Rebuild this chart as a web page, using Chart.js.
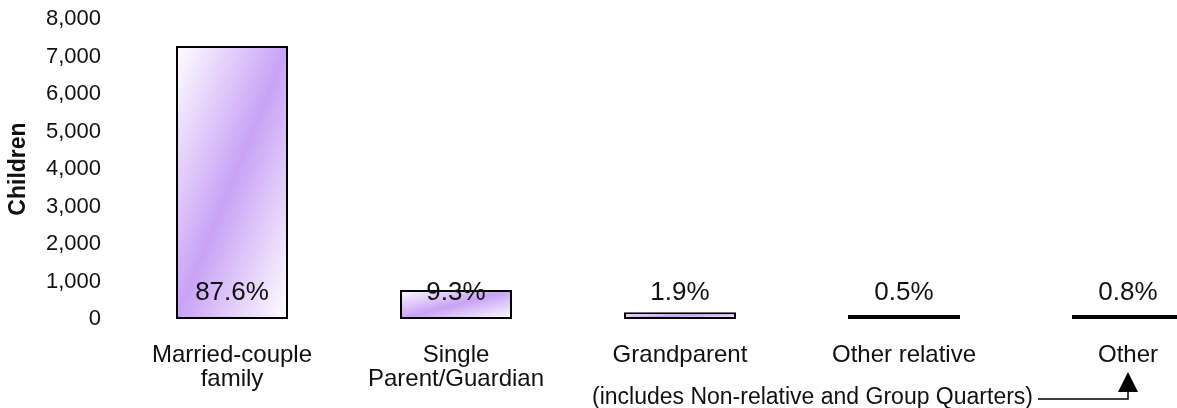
<!DOCTYPE html>
<html>
<head>
<meta charset="utf-8">
<script src="https://cdn.jsdelivr.net/npm/chart.js@4/dist/chart.umd.min.js"></script>
<style>
  html, body { margin: 0; padding: 0; background: #fff; overflow: hidden; }
  #wrap { width: 1240px; height: 408px; }
</style>
</head>
<body>
<div id="wrap"><canvas id="chart" width="1240" height="408"></canvas></div>
<script>
const categories = [['Married-couple', 'family'], ['Single', 'Parent/Guardian'], 'Grandparent', 'Other relative', 'Other'];
const children = [7280, 773, 180, 42, 66];
const shares = ['87.6%', '9.3%', '1.9%', '0.5%', '0.8%'];
const yTicks = [0, 1000, 2000, 3000, 4000, 5000, 6000, 7000, 8000];
const footnote = '(includes Non-relative and Group Quarters)';

const FONT = "'Liberation Sans', Arial, sans-serif";
const PURPLE = '#c9a2f6';

// diagonal white -> purple -> white fill, stretched to each bar
function barFill(ctx) {
  const chart = ctx.chart;
  if (!chart.chartArea || ctx.type !== 'data') return PURPLE;
  const xs = chart.scales.x, ys = chart.scales.y;
  const w = xs.width / categories.length * 0.5;
  const x0 = xs.getPixelForValue(ctx.dataIndex) - w / 2;
  const bottom = ys.getPixelForValue(0);
  const h = Math.max(bottom - ys.getPixelForValue(ctx.raw), 4);
  const top = bottom - h;
  const k = 2 / (1 / (w * w) + 1 / (h * h));
  const g = chart.ctx.createLinearGradient(x0, top, x0 + k / w, top + k / h);
  g.addColorStop(0, '#ffffff');
  g.addColorStop(0.5, PURPLE);
  g.addColorStop(1, '#ffffff');
  return g;
}

const shareLabels = {
  id: 'shareLabels',
  afterDatasetsDraw(chart) {
    const c = chart.ctx;
    const meta = chart.getDatasetMeta(0);
    c.save();
    c.font = '26px ' + FONT;
    c.fillStyle = '#111';
    c.textAlign = 'center';
    c.textBaseline = 'middle';
    meta.data.forEach((bar, i) => {
      c.fillText(shares[i], bar.x, chart.chartArea.bottom - 26);
    });
    c.restore();
  }
};

const footnoteArrow = {
  id: 'footnoteArrow',
  afterDraw(chart) {
    const c = chart.ctx;
    const ax = chart.scales.x.getPixelForValue(categories.length - 1);
    const ly = 399;
    const textEnd = ax - 95;
    c.save();
    c.font = '23px ' + FONT;
    c.fillStyle = '#111';
    c.textAlign = 'right';
    c.textBaseline = 'middle';
    c.fillText(footnote, textEnd, ly - 1);
    c.strokeStyle = '#000';
    c.lineWidth = 1.5;
    c.beginPath();
    c.moveTo(textEnd + 5, ly);
    c.lineTo(ax, ly);
    c.lineTo(ax, 390);
    c.stroke();
    c.fillStyle = '#000';
    c.beginPath();
    c.moveTo(ax, 372);
    c.lineTo(ax - 10, 392);
    c.lineTo(ax + 10, 392);
    c.closePath();
    c.fill();
    c.restore();
  }
};

new Chart(document.getElementById('chart'), {
  type: 'bar',
  data: {
    labels: categories,
    datasets: [{
      label: 'Children',
      data: children,
      backgroundColor: barFill,
      borderColor: '#000',
      borderWidth: 2,
      borderSkipped: false,
      minBarLength: 4,
      barPercentage: 0.5,
      categoryPercentage: 1
    }]
  },
  options: {
    responsive: false,
    animation: false,
    layout: { padding: { top: 19, right: 0, bottom: 0, left: 0 } },
    plugins: {
      legend: { display: false },
      tooltip: { enabled: false }
    },
    scales: {
      x: {
        grid: { display: false, drawTicks: false },
        border: { display: false },
        ticks: {
          color: '#111',
          padding: 24,
          maxRotation: 0,
          autoSkip: false,
          font: { family: FONT, size: 24, lineHeight: 1.0 }
        },
        afterFit(scale) { scale.height = 89; }
      },
      y: {
        min: 0,
        max: 8000,
        // tick marks hidden; their length keeps the labels off the plot
        grid: { display: false, drawTicks: true, tickLength: 19 },
        border: { display: false },
        afterBuildTicks(scale) { scale.ticks = yTicks.map(v => ({ value: v })); },
        ticks: {
          color: '#111',
          padding: 0,
          font: { family: FONT, size: 22 },
          callback: v => v.toLocaleString('en-US')
        },
        title: {
          display: true,
          text: 'Children',
          color: '#111',
          padding: { top: 5, bottom: 10 },
          font: { family: FONT, size: 23, weight: 'bold' }
        },
        afterFit(scale) { scale.width = 120; }
      }
    }
  },
  plugins: [shareLabels, footnoteArrow]
});
</script>
</body>
</html>
